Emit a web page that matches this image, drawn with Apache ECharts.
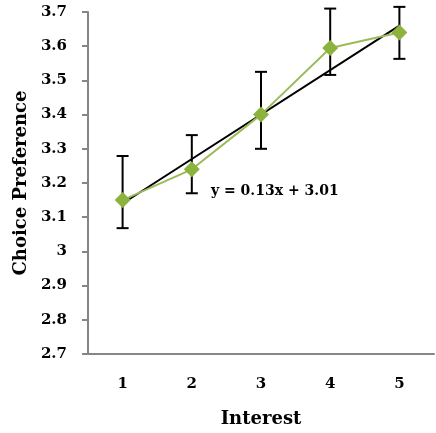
<!DOCTYPE html>
<html>
<head>
<meta charset="utf-8">
<script src="https://cdn.jsdelivr.net/npm/echarts@6/dist/echarts.min.js"></script>
<style>
  html, body { margin: 0; padding: 0; background: #fff; }
  #myChart { width: 436px; height: 433px; }
</style>
</head>
<body>
<div id="myChart"></div>
<script>
// interest level vs choice preference
const categories = ['1', '2', '3', '4', '5'];
const means = [3.15, 3.24, 3.40, 3.595, 3.64];
const errLow = [3.068, 3.17, 3.30, 3.516, 3.563];
const errHigh = [3.279, 3.34, 3.525, 3.71, 3.715];
// trendline endpoints (x = 1 and x = 5)
const trend = [3.14, null, null, null, 3.66];
const trendLabel = 'y = 0.13x + 3.01';

const font = '"DejaVu Serif", "Liberation Serif", serif';

const option = {
  animation: false,
  grid: { left: 88, right: 2, top: 12, bottom: 79 },
  xAxis: {
    type: 'category',
    data: categories,
    name: 'Interest',
    nameLocation: 'middle',
    nameGap: 56,
    nameTextStyle: { fontFamily: font, fontWeight: 'bold', fontSize: 18, color: '#000' },
    axisLine: { lineStyle: { color: '#868686', width: 2 } },
    axisTick: { length: 8, lineStyle: { color: '#868686', width: 2 } },
    axisLabel: { margin: 23, fontFamily: font, fontWeight: 'bold', fontSize: 15, color: '#000' }
  },
  yAxis: {
    type: 'value',
    min: 2.7,
    max: 3.7,
    interval: 0.1,
    name: 'Choice Preference',
    nameLocation: 'middle',
    nameGap: 58,
    nameTextStyle: { fontFamily: font, fontWeight: 'bold', fontSize: 18, color: '#000' },
    splitLine: { show: false },
    axisLine: { show: true, lineStyle: { color: '#868686', width: 2 } },
    axisTick: { show: true, length: 6, lineStyle: { color: '#868686', width: 2 } },
    axisLabel: {
      margin: 21,
      fontFamily: font,
      fontWeight: 'bold',
      fontSize: 15,
      color: '#000',
      formatter: v => String(Number(v.toFixed(1)))
    }
  },
  series: [
    {
      name: 'trend',
      type: 'line',
      data: trend,
      connectNulls: true,
      symbol: 'none',
      lineStyle: { color: '#000', width: 2 },
      z: 3,
      markPoint: {
        symbol: 'rect',
        symbolSize: 0,
        data: [{ coord: ['3', 3.17] }],
        label: {
          show: true,
          formatter: trendLabel,
          position: 'right',
          offset: [-55, -2],
          fontFamily: font,
          fontWeight: 'bold',
          fontSize: 14,
          color: '#000'
        }
      }
    },
    {
      name: 'errors',
      type: 'custom',
      clip: false,
      z: 4,
      data: categories.map((c, i) => [i, errLow[i], errHigh[i]]),
      renderItem: (params, api) => {
        const lo = api.coord([api.value(0), api.value(1)]);
        const hi = api.coord([api.value(0), api.value(2)]);
        const w = 6;
        const style = { stroke: '#000', lineWidth: 2 };
        return {
          type: 'group',
          children: [
            { type: 'line', shape: { x1: lo[0], y1: lo[1], x2: hi[0], y2: hi[1] }, style },
            { type: 'line', shape: { x1: lo[0] - w, y1: lo[1], x2: lo[0] + w, y2: lo[1] }, style },
            { type: 'line', shape: { x1: hi[0] - w, y1: hi[1], x2: hi[0] + w, y2: hi[1] }, style }
          ]
        };
      }
    },
    {
      name: 'Choice Preference',
      type: 'line',
      data: means,
      symbol: 'diamond',
      symbolSize: 16,
      lineStyle: { color: '#9BBB59', width: 2 },
      itemStyle: { color: '#8DB33F' },
      z: 5
    }
  ]
};

const myChart = echarts.init(document.getElementById('myChart'));
myChart.setOption(option, true);
</script>
</body>
</html>
